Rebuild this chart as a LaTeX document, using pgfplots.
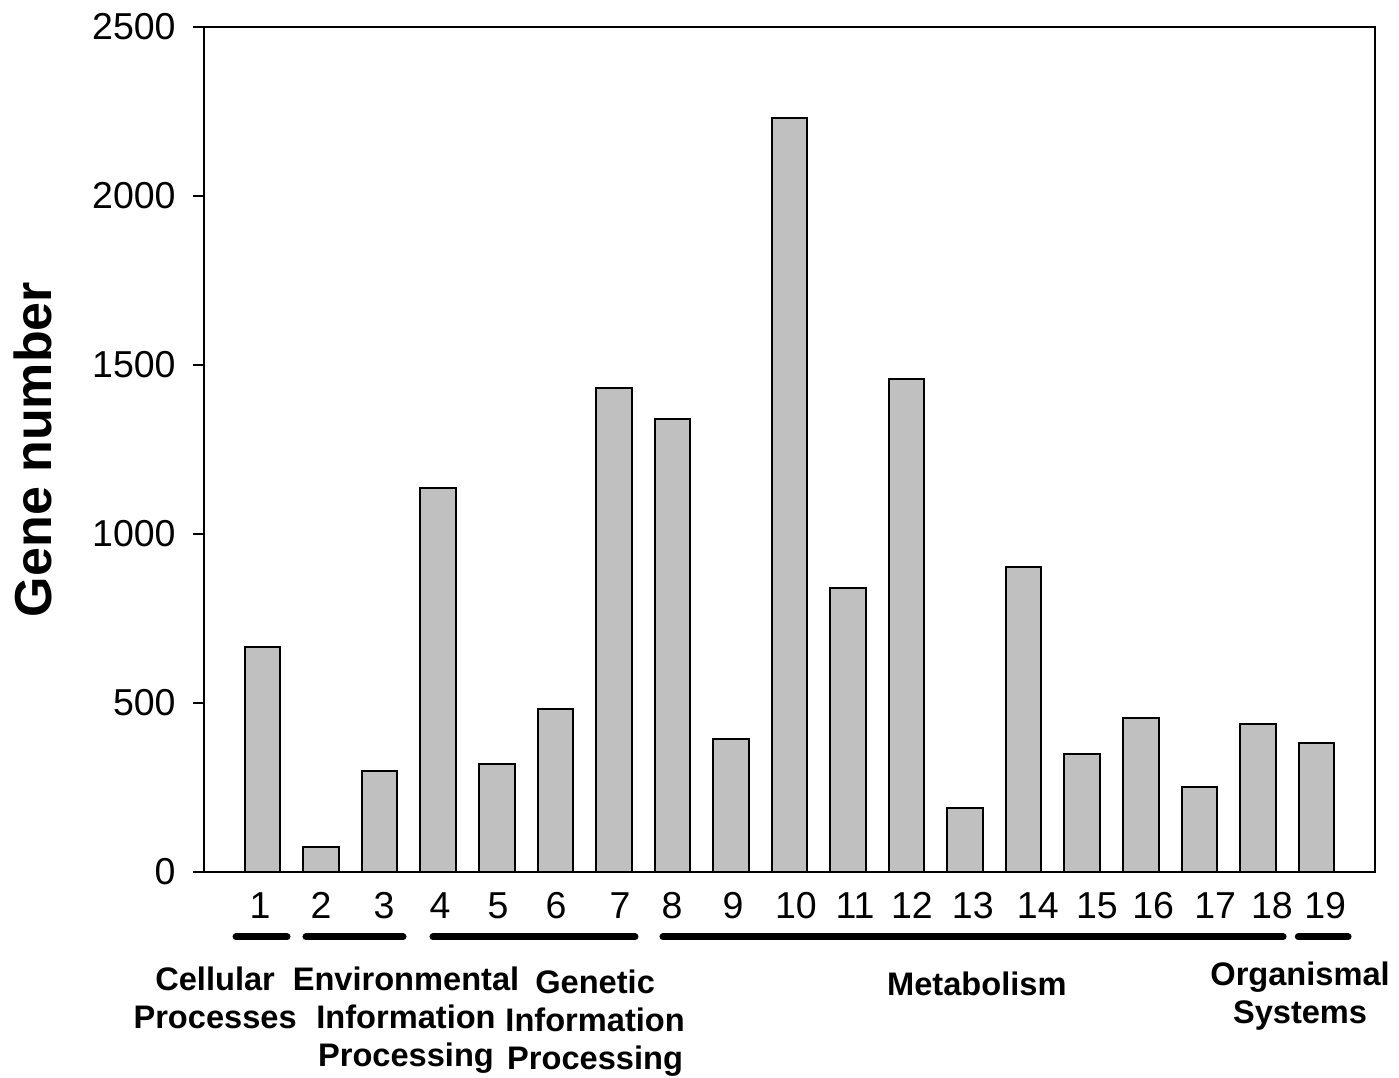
\documentclass[border=0pt]{standalone}
\usepackage{fontspec}
\setmainfont{Liberation Sans}
\setsansfont{Liberation Sans}
\usepackage{pgfplots}
\pgfplotsset{compat=1.18}
\definecolor{barfill}{RGB}{192,192,192}
\begin{document}
\begin{tikzpicture}
\begin{axis}[
  scale only axis, width=585.5pt, height=422.5pt,
  xmin=0, xmax=20, ymin=0, ymax=2500,
  ybar, bar width=0.607,
  axis line style={line width=1.2pt},
  ytick={0,500,1000,1500,2000,2500},
  ytick pos=left, xtick pos=bottom, tick align=outside, major tick length=5.5pt,
  y tick style={line width=1.2pt, black},
  x tick style={draw=none},
  xtick={0.956,1.998,3.074,4.031,5.021,6.012,7.105,7.993,9.035,10.11,11.12,12.09,13.13,14.24,15.25,16.21,17.27,18.24,19.15},
  xticklabels={1,2,3,4,5,6,7,8,9,10,11,\raisebox{-2pt}{12},\raisebox{1.5pt}{13},14,15,16,17,18,19},
  /pgf/number format/assume math mode=true,
  /pgf/number format/1000 sep={},
  scaled y ticks=false,
  ticklabel style={font=\fontsize{18.75}{22}\selectfont},
  yticklabel style={anchor=east, inner sep=0pt, xshift=-8.5pt},
  xticklabel style={anchor=north, inner sep=0pt, yshift=-4.5pt},
  ylabel={Gene number},
  ylabel style={font=\bfseries\fontsize{26}{30}\selectfont, at={(axis description cs:-0.1298,0.5)}, anchor=base},
  clip=false,
]
\addplot[fill=barfill, draw=black, line width=1pt] coordinates {
(1,665) (2,73) (3,299) (4,1136) (5,319) (6,483) (7,1432) (8,1340) (9,394) (10,2231)
(11,841) (12,1459) (13,188) (14,903) (15,348) (16,455) (17,251) (18,437) (19,381)};
\coordinate (SW) at (rel axis cs:0,0);
\coordinate (NE) at (rel axis cs:1,1);
\draw[line width=3.5pt, line cap=round] (axis cs:0.547,-192) -- (axis cs:1.418,-192);
\draw[line width=3.5pt, line cap=round] (axis cs:1.742,-192) -- (axis cs:3.399,-192);
\draw[line width=3.5pt, line cap=round] (axis cs:3.911,-192) -- (axis cs:7.361,-192);
\draw[line width=3.5pt, line cap=round] (axis cs:7.839,-192) -- (axis cs:18.43,-192);
\draw[line width=3.5pt, line cap=round] (axis cs:18.69,-192) -- (axis cs:19.54,-192);
\begin{scope}[every node/.style={align=center, inner sep=0pt, anchor=north, font=\bfseries\fontsize{16.3}{19}\selectfont}]
\node at (axis cs:0.19,-280) {Cellular\\Processes};
\node at (axis cs:3.45,-280) {Environmental\\Information\\Processing};
\node at (axis cs:6.68,-289) {Genetic\\Information\\Processing};
\node at (axis cs:13.2,-294) {Metabolism};
\node at (axis cs:18.72,-265) {Organismal\\Systems};
\end{scope}
\end{axis}
\pgfresetboundingbox
\path ([shift={(-102pt,-103pt)}]SW) rectangle ([shift={(12pt,13.5pt)}]NE);
\end{tikzpicture}
\end{document}
